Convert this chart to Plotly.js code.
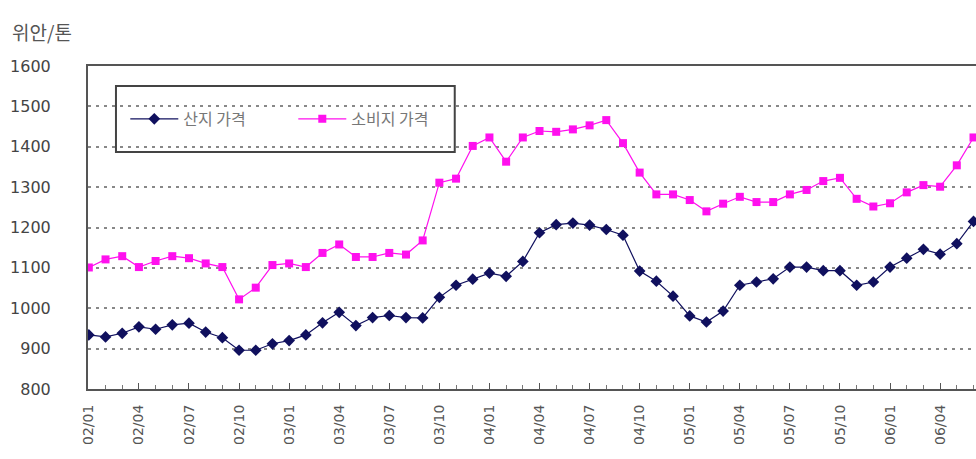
<!DOCTYPE html>
<html><head><meta charset="utf-8">
<script src="https://cdn.plot.ly/plotly-3.0.1.min.js"></script>
<style>html,body{margin:0;padding:0;background:#fff}#c{width:976px;height:459px}</style>
</head><body><div id="c"></div>
<script>
var months = [];
var years = ['02','03','04','05','06'];
for (var y = 0; y < years.length; y++) {
  for (var m = 1; m <= 12; m++) {
    var lab = years[y] + '/' + (m < 10 ? '0' + m : '' + m);
    months.push(lab);
    if (lab === '06/06') break;
  }
}
var tickLabels = ['02/01','02/04','02/07','02/10','03/01','03/04','03/07','03/10','04/01','04/04','04/07','04/10','05/01','05/04','05/07','05/10','06/01','06/04'];

var producerPrice = [934,929,938,954,948,959,963,941,927,896,896,912,920,934,964,990,957,977,982,977,
  976,1027,1057,1072,1087,1079,1116,1187,1207,1211,1206,1195,1181,1092,1067,1030,981,966,993,
  1057,1065,1073,1102,1102,1093,1093,1057,1065,1102,1124,1146,1134,1160,1215];
var consumerPrice = [1101,1121,1129,1102,1117,1129,1124,1111,1102,1022,1051,1107,1111,1102,1137,1158,1127,1127,1137,1133,
  1168,1311,1321,1402,1423,1363,1423,1439,1437,1443,1453,1466,1409,1336,1282,1282,1268,1240,1259,
  1276,1263,1263,1282,1293,1315,1323,1271,1252,1260,1287,1305,1301,1354,1423];

var traces = [
  {x: months, y: producerPrice, name: '산지 가격', type: 'scatter', mode: 'lines+markers',
   line: {color: '#10105e', width: 1.2}, marker: {symbol: 'diamond', size: 9, color: '#10105e'}},
  {x: months, y: consumerPrice, name: '소비지 가격', type: 'scatter', mode: 'lines+markers',
   line: {color: '#ff10ee', width: 1.2}, marker: {symbol: 'square', size: 8, color: '#ff10ee'}}
];
var layout = {
  width: 976, height: 459,
  margin: {l: 88, r: 0, t: 66, b: 70},
  paper_bgcolor: '#fff', plot_bgcolor: '#fff',
  showlegend: true,
  legend: {orientation: 'h', x: 0.042, y: 0.836, xanchor: 'left', yanchor: 'middle',
    bgcolor: 'rgba(0,0,0,0)', font: {family: 'Noto Sans CJK KR, sans-serif', size: 16, color: '#777'},
    entrywidth: 105, itemwidth: 48},
  xaxis: {type: 'category', range: [-0.05, 53.15], tickvals: tickLabels, ticktext: tickLabels,
    tickangle: -90, tickfont: {family: 'DejaVu Sans, sans-serif', size: 14, color: '#555'}, ticklabelstandoff: 8,
    showgrid: false, showline: true, linecolor: '#555', linewidth: 2,
    mirror: true, ticks: 'inside', ticklen: 6, tickcolor: '#555', zeroline: false,
    minor: {dtick: 1, ticks: 'inside', ticklen: 4, tickcolor: '#777', showgrid: false}},
  yaxis: {range: [800, 1600], dtick: 100, tickfont: {family: 'DejaVu Sans, sans-serif', size: 16, color: '#444'},
    showline: true, linecolor: '#555', linewidth: 2, ticks: '', ticklabelstandoff: 32,
    showgrid: true, gridcolor: '#888', gridwidth: 2, griddash: '3px,5px', zeroline: false},
  shapes: [{type: 'rect', xref: 'paper', yref: 'paper', x0: 0.0315, x1: 0.413, y0: 0.734, y1: 0.938,
    line: {color: '#444', width: 2}, fillcolor: '#fff', layer: 'below'}],
  annotations: [{text: '위안/톤', xref: 'paper', yref: 'paper', x: -0.088, y: 1.06, xanchor: 'left', yanchor: 'bottom',
    showarrow: false, font: {family: 'Noto Sans CJK KR, sans-serif', size: 19, color: '#555'}}]
};
Plotly.newPlot('c', traces, layout, {staticPlot: true});
</script></body></html>
